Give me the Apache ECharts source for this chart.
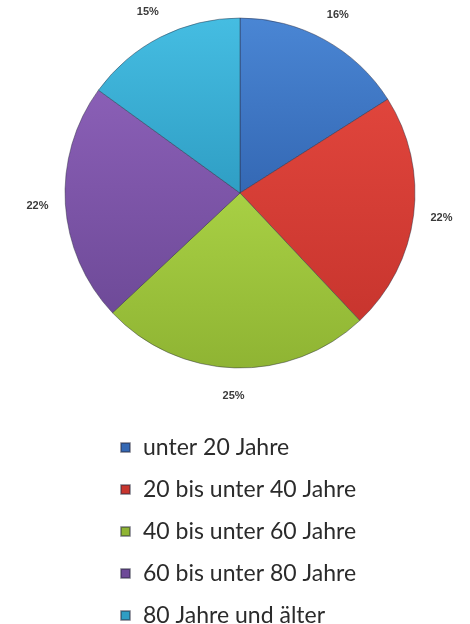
<!DOCTYPE html>
<html>
<head>
<meta charset="utf-8">
<script src="https://cdn.jsdelivr.net/npm/echarts@6/dist/echarts.min.js"></script>
<style>
  html, body { margin: 0; padding: 0; background: #fff; }
  #chart { width: 470px; height: 624px; }
</style>
</head>
<body>
<div id="chart"></div>
<script>
  // Altersgruppen und Anteile (%)
  var categories = ['unter 20 Jahre', '20 bis unter 40 Jahre', '40 bis unter 60 Jahre', '60 bis unter 80 Jahre', '80 Jahre und älter'];
  var values = [16, 22, 25, 22, 15];

  var colorsTop = ['#4a86d4', '#e0453c', '#a8d044', '#8a5fb6', '#45bde2'];
  var colorsBottom = ['#3468b4', '#c8352e', '#8fb433', '#6e4a98', '#2f9ec4'];

  function grad(i) {
    return new echarts.graphic.LinearGradient(0, 0, 0, 1, [
      { offset: 0, color: colorsTop[i] },
      { offset: 1, color: colorsBottom[i] }
    ]);
  }

  var pieData = [];
  var labelData = [];
  for (var i = 0; i < categories.length; i++) {
    pieData.push({ name: categories[i], value: values[i], itemStyle: { color: grad(i) } });
    labelData.push({ name: categories[i], value: values[i] });
  }

  var legendData = [];
  for (var j = 0; j < categories.length; j++) {
    legendData.push({ name: categories[j], itemStyle: { color: colorsBottom[j] } });
  }

  var myChart = echarts.init(document.getElementById('chart'));
  myChart.setOption({
    animation: false,
    legend: {
      orient: 'vertical',
      left: 120,
      top: 436,
      height: 250,
      padding: 0,
      icon: 'rect',
      itemWidth: 9,
      itemHeight: 9,
      itemGap: 19,
      selectedMode: false,
      data: legendData,
      textStyle: {
        fontFamily: 'Lato',
        fontSize: 23,
        color: '#2b2b2b',
        padding: [0, 0, 0, 8]
      }
    },
    series: [
      {
        name: 'Alter',
        type: 'pie',
        center: [240, 193],
        radius: [0, 175],
        startAngle: 90,
        silent: true,
        label: { show: false },
        labelLine: { show: false },
        itemStyle: { borderColor: 'rgba(40,40,60,0.45)', borderWidth: 1 },
        data: pieData
      },
      {
        // nur für die Beschriftung ausserhalb
        name: 'Beschriftung',
        type: 'pie',
        center: [240, 193],
        radius: [193, 207],
        startAngle: 90,
        silent: true,
        itemStyle: { color: 'rgba(0,0,0,0)' },
        label: {
          show: true,
          position: 'inside',
          formatter: '{c}%',
          fontFamily: 'Arial',
          fontWeight: 'bold',
          fontSize: 11,
          color: '#3a3a3a'
        },
        labelLine: { show: false },
        data: labelData
      }
    ]
  });
</script>
</body>
</html>
